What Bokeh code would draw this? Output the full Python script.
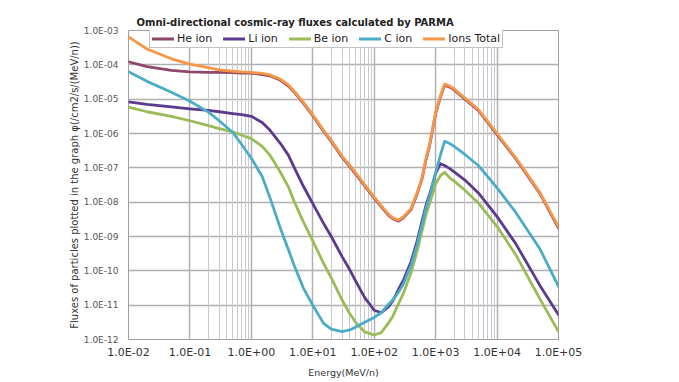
from bokeh.plotting import figure
from bokeh.models import (FixedTicker, CustomJSTickFormatter, Grid, Legend,
                          LegendItem, ColumnDataSource)
from bokeh.embed import file_html
from bokeh.resources import INLINE

# ---------------- data ----------------
energy = [0.01, 0.02, 0.05, 0.1, 0.2, 0.3, 0.5, 0.7, 1, 1.5, 2, 3, 4, 5, 7,
          10, 15, 20, 30, 40, 50, 70, 100, 130, 170, 200, 250, 300, 400, 500,
          600, 700, 800, 1000, 1200, 1400, 1700, 2000, 3000, 5000, 1e4, 2e4,
          5e4, 1e5]

ions_total = [6.5e-4, 2.9e-4, 1.5e-4, 1.05e-4, 8.3e-5, 7.1e-5, 6.5e-5, 6.2e-5,
              6.0e-5, 5.6e-5, 5.1e-5, 3.8e-5, 2.6e-5, 1.7e-5, 8.2e-6, 3.5e-6,
              1.23e-6, 6.3e-7, 2.2e-7, 1.17e-7, 7.1e-8, 3.2e-8, 1.41e-8, 7.9e-9,
              4.5e-9, 3.5e-9, 3.0e-9, 3.8e-9, 6.6e-9, 1.9e-8, 5.1e-8, 1.9e-7,
              4.9e-7, 4.1e-6, 1.26e-5, 2.75e-5, 2.4e-5, 2.0e-5, 1.07e-5, 4.9e-6,
              1.0e-6, 2.0e-7, 1.9e-8, 1.9e-9]

he_ion = [1.23e-4, 8.9e-5, 6.9e-5, 6.2e-5, 6.0e-5, 6.0e-5, 5.9e-5, 5.75e-5,
          5.75e-5, 5.2e-5, 4.8e-5, 3.55e-5, 2.4e-5, 1.6e-5, 7.7e-6, 3.3e-6,
          1.15e-6, 5.9e-7, 2.05e-7, 1.09e-7, 6.6e-8, 3.0e-8, 1.32e-8, 7.4e-9,
          4.2e-9, 3.3e-9, 2.8e-9, 3.55e-9, 6.2e-9, 1.77e-8, 4.8e-8, 1.77e-7,
          4.6e-7, 3.8e-6, 1.18e-5, 2.57e-5, 2.24e-5, 1.87e-5, 1.0e-5, 4.6e-6,
          9.3e-7, 1.87e-7, 1.77e-8, 1.77e-9]

li_ion = [8.3e-6, 7.1e-6, 6.0e-6, 5.25e-6, 4.7e-6, 4.3e-6, 3.8e-6, 3.55e-6,
          3.16e-6, 2.1e-6, 1.26e-6, 5.0e-7, 2.35e-7, 1.02e-7, 2.95e-8, 9.1e-9,
          2.4e-9, 1.0e-9, 2.6e-10, 1.07e-10, 5.0e-11, 1.66e-11, 7.1e-12,
          6.0e-12, 8.9e-12, 1.32e-11, 2.95e-11, 5.4e-11, 1.9e-10, 7.4e-10,
          2.8e-9, 8.3e-9, 1.7e-8, 6.9e-8, 1.32e-7, 1.17e-7, 9.5e-8, 7.6e-8,
          4.4e-8, 1.82e-8, 3.8e-9, 6.3e-10, 3.7e-11, 5.25e-12]

be_ion = [5.9e-6, 4.3e-6, 3.16e-6, 2.35e-6, 1.7e-6, 1.38e-6, 1.12e-6, 8.9e-7,
          7.1e-7, 4.2e-7, 2.35e-7, 7.2e-8, 2.8e-8, 1.02e-8, 2.7e-9, 7.4e-10,
          1.66e-10, 6.2e-11, 1.41e-11, 5.6e-12, 3.16e-12, 1.66e-12, 1.35e-12,
          1.58e-12, 3.0e-12, 4.7e-12, 1.12e-11, 2.24e-11, 9.1e-11, 3.8e-10,
          1.45e-9, 4.4e-9, 9.3e-9, 3.4e-8, 6.0e-8, 7.4e-8, 5.1e-8, 4.1e-8,
          2.24e-8, 9.3e-9, 1.95e-9, 3.0e-10, 1.5e-11, 1.7e-12]

c_ion = [6.3e-5, 3.3e-5, 1.58e-5, 8.7e-6, 4.2e-6, 2.35e-6, 1.07e-6, 4.7e-7,
         1.9e-7, 5.6e-8, 1.38e-8, 1.66e-9, 4.2e-10, 1.41e-10, 3.2e-11, 1.0e-11,
         2.95e-12, 2.0e-12, 1.7e-12, 1.9e-12, 2.3e-12, 3.2e-12, 4.4e-12,
         6.0e-12, 1.05e-11, 1.41e-11, 2.4e-11, 4.2e-11, 1.5e-10, 5.9e-10,
         2.24e-9, 6.9e-9, 1.48e-8, 7.2e-8, 2.4e-7, 5.9e-7, 5.1e-7, 4.2e-7,
         2.45e-7, 1.15e-7, 2.6e-8, 5.1e-9, 4.3e-10, 3.5e-11]

series_names = ["He ion", "Li ion", "Be ion", "C ion", "Ions Total"]
series_colors = ["#8E4768", "#5C3A8E", "#9BBB59", "#4BACC6", "#F79646"]

x_ticks = [1e-2, 1e-1, 1e0, 1e1, 1e2, 1e3, 1e4, 1e5]
y_ticks = [1e-12, 1e-11, 1e-10, 1e-9, 1e-8, 1e-7, 1e-6, 1e-5, 1e-4, 1e-3]
minor_x = [m * b for b in (0.1, 10, 1000) for m in range(2, 10)]

FONT = "DejaVu Sans"

p = figure(width=679, height=382, x_axis_type="log", y_axis_type="log",
           x_range=(1e-2, 1e5), y_range=(1e-12, 1e-3),
           output_backend="svg", toolbar_location=None,
           min_border_left=128, min_border_right=121,
           min_border_top=30, min_border_bottom=43)

p.title.text = "Omni-directional cosmic-ray fluxes calculated by PARMA"
p.title.text_font = FONT
p.title.text_font_size = "10px"
p.title.text_font_style = "bold"
p.title.align = "left"
p.title.vertical_align = "top"
p.title.offset = 8
p.title.standoff = 2
p.title.text_color = "#222222"

p.outline_line_color = "#a0a0a0"
p.outline_line_width = 1

fmt = CustomJSTickFormatter(code="""
const e = Math.round(Math.log10(tick));
const a = Math.abs(e);
return "1.0E" + (e < 0 ? "-" : "+") + (a < 10 ? "0" + a : "" + a);
""")

p.xaxis.ticker = FixedTicker(ticks=x_ticks, minor_ticks=[])
p.yaxis.ticker = FixedTicker(ticks=y_ticks, minor_ticks=[])
p.xaxis.formatter = fmt
p.yaxis.formatter = fmt
for ax in (p.xaxis, p.yaxis):
    ax.axis_line_color = None
    ax.major_tick_line_color = None
    ax.minor_tick_line_color = None
    ax.major_tick_out = 0
    ax.major_tick_in = 0
    ax.minor_tick_out = 0
    ax.minor_tick_in = 0
    ax.axis_label_text_font = FONT
    ax.axis_label_text_font_style = "normal"
    ax.axis_label_text_color = "#333333"
    ax.major_label_text_font = FONT

p.xaxis.major_label_text_font_size = "11px"
p.xaxis.major_label_text_color = "#333333"
p.xaxis.major_label_standoff = 6
p.xaxis.axis_label = "Energy(MeV/n)"
p.xaxis.axis_label_text_font_size = "9.5px"
p.xaxis.axis_label_standoff = 5

p.yaxis.major_label_text_font_size = "9px"
p.yaxis.major_label_text_color = "#555555"
p.yaxis.major_label_standoff = 10
p.yaxis.axis_label = "Fluxes of particles plotted in the graph \u03c6(/cm2/s/(MeV/n))"
p.yaxis.axis_label_text_font_size = "10px"
p.yaxis.axis_label_standoff = 1

p.xgrid.grid_line_color = "#b0b0b0"
p.xgrid.grid_line_width = 1.5
p.ygrid.grid_line_color = "#b0b0b0"
p.ygrid.grid_line_width = 1.5

minor_grid = Grid(dimension=0, ticker=FixedTicker(ticks=minor_x),
                  grid_line_color="#c8c8d2", grid_line_width=1)
p.add_layout(minor_grid, "center")

src = ColumnDataSource(dict(energy=energy, he=he_ion, li=li_ion, be=be_ion,
                            c=c_ion, total=ions_total))
items = []
for name, col, color in zip(series_names, ["he", "li", "be", "c", "total"],
                            series_colors):
    r = p.line("energy", col, source=src, line_color=color, line_width=2.8,
               line_join="round", line_cap="round")
    items.append(LegendItem(label=name, renderers=[r]))

legend = Legend(items=items, orientation="horizontal", location=(21, 291),
                label_text_font=FONT, label_text_font_size="11px",
                label_text_color="#222222",
                glyph_width=22, glyph_height=13, label_standoff=3,
                label_height=13, spacing=11, padding=2, margin=0,
                border_line_color="#888888", border_line_width=1,
                background_fill_color="white", background_fill_alpha=1)
p.add_layout(legend, "center")

open("out.html", "w").write(file_html(p, INLINE))
